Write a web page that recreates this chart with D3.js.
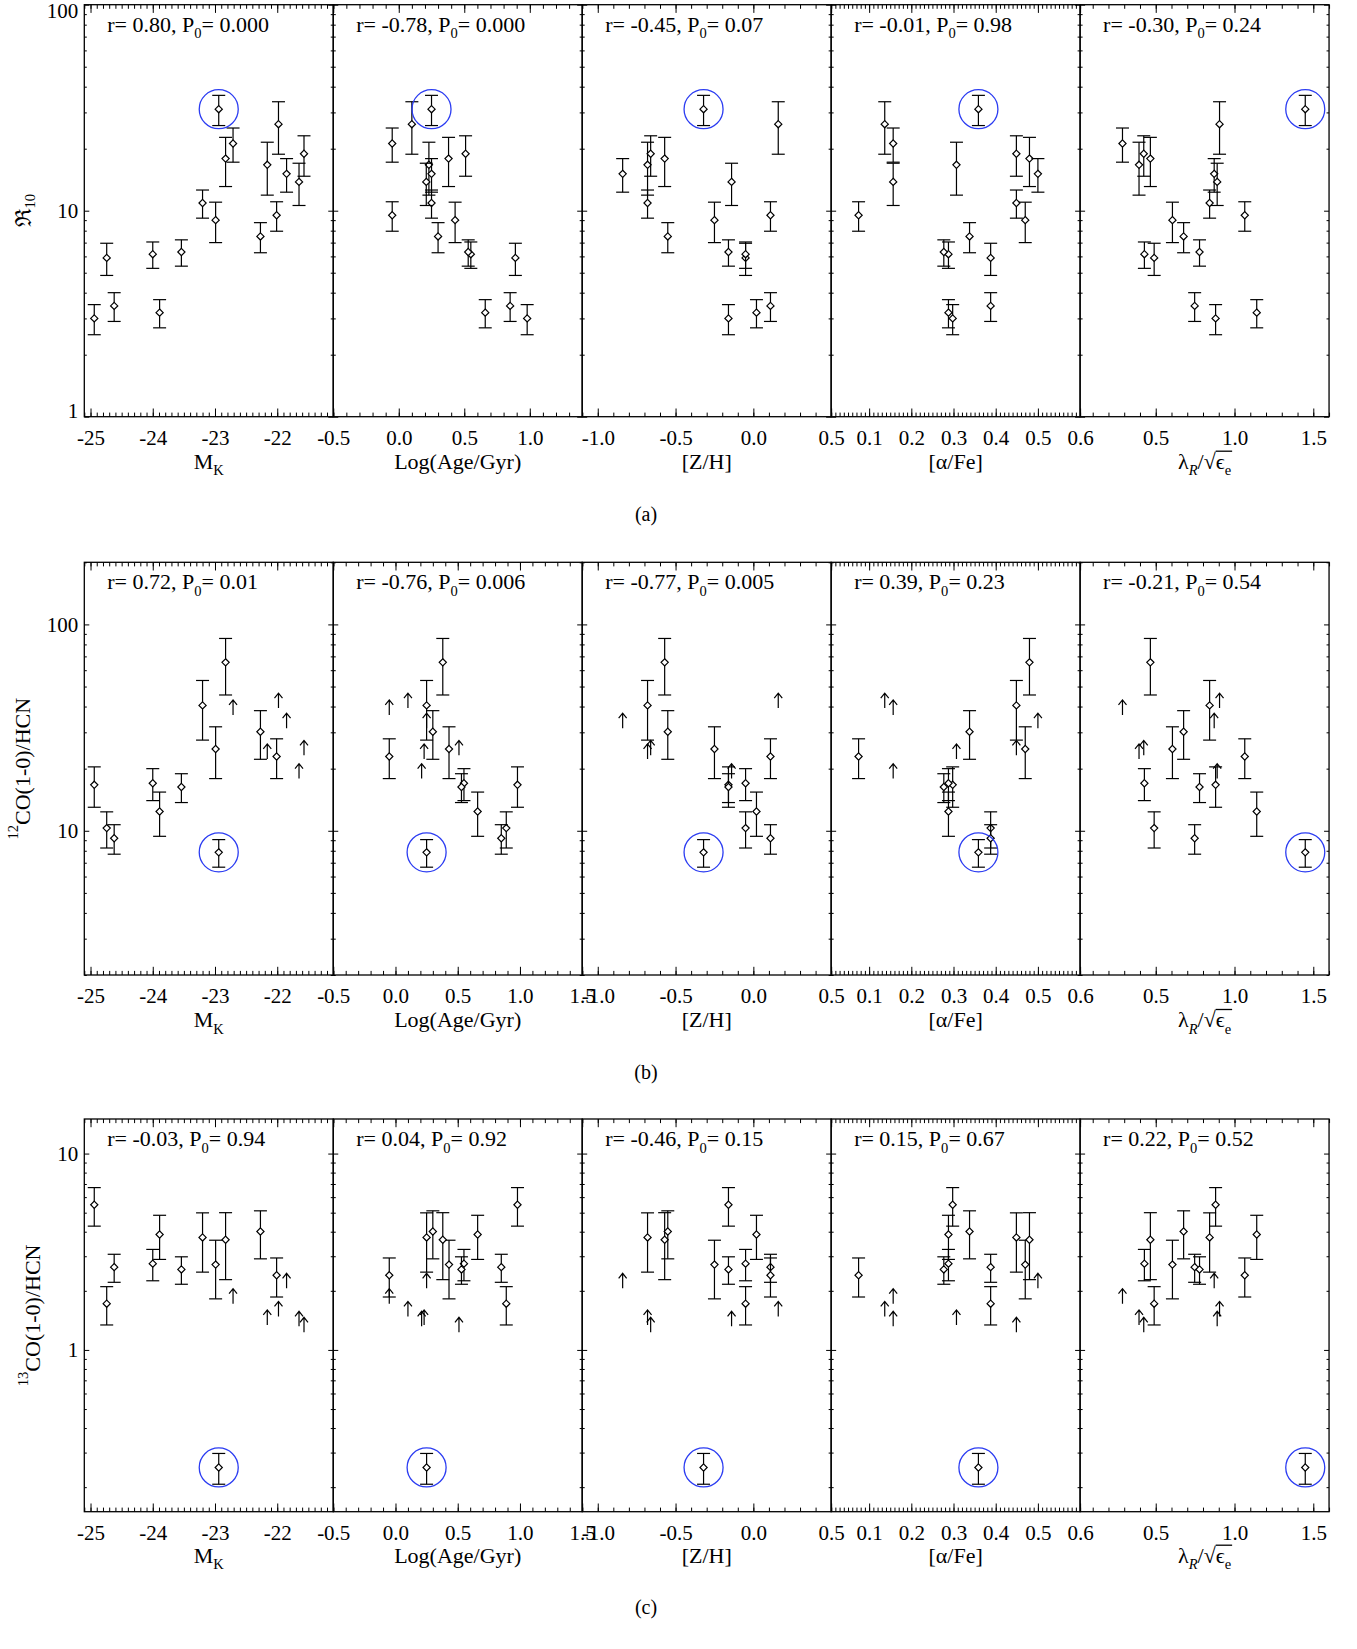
<!DOCTYPE html>
<html>
<head>
<meta charset="utf-8">
<script src="https://cdn.jsdelivr.net/npm/d3@7"></script>
<style>
body { margin: 0; background: #fff; }
text { font-family: "Liberation Serif", "Times New Roman", "DejaVu Serif", serif; fill: #000; }
</style>
</head>
<body>
<div id="chart"></div>
<script>
// galaxy properties, same order in every array
const MK      = [-24.94,-24.74,-24.62,-24.00,-23.89,-23.54,-23.20,-22.99,-22.94,-22.83,-22.71,-22.27,-22.16,-21.98,-22.01,-21.85,-21.65,-21.57];
const logAge  = [0.98,0.89,0.85,0.55,0.66,0.53,0.25,0.43,0.25,0.38,-0.05,0.30,0.23,0.10,-0.05,0.25,0.21,0.51];
const ZH      = [-0.16,-0.05,0.11,-0.05,0.02,-0.16,-0.68,-0.25,-0.32,-0.57,null,-0.55,-0.68,0.16,0.11,-0.84,-0.14,-0.66];
const alphaFe = [0.298,0.388,0.388,0.288,0.288,0.277,0.449,0.47,0.359,0.48,0.157,0.338,0.307,0.137,0.075,0.50,0.157,0.449];
const lambdaR = [0.88,0.49,0.747,0.428,1.141,0.778,0.842,0.606,1.449,0.466,0.289,0.677,0.394,0.905,1.065,0.871,0.89,0.424];

// line ratios, err = null means lower limit (arrow)
const R10    = [3.0,5.9,3.45,6.15,3.2,6.3,10.9,9.0,31.1,17.9,21.2,7.5,16.7,26.3,9.5,15.1,13.8,18.9];
const R10err = [0.5,1.05,0.55,0.9,0.5,0.92,1.7,2.0,5.2,4.8,4.0,1.25,4.8,7.5,1.55,2.8,3.2,4.2];
const R12    = [16.7,10.3,9.2,17.0,12.4,16.3,40.5,24.9,7.86,65.5,36.4,30.2,22.3,39.3,22.9,31.4,17.9,23.2];
const R12err = [3.7,2.05,1.5,3.0,3.0,2.6,13,7.0,1.2,20,null,8.0,null,null,5.0,null,null,null];
const R13    = [5.49,1.72,2.64,2.75,3.87,2.57,3.74,2.72,0.252,3.64,1.72,4.01,1.34,1.48,2.40,2.06,1.32,1.23];
const R13err = [1.22,0.38,0.43,0.5,0.98,0.41,1.25,0.9,0.045,1.36,null,1.1,null,null,0.54,null,null,null];
const circled = 8; // the outlier ringed in blue

// correlation labels
const rA = ["0.80","-0.78","-0.45","-0.01","-0.30"], pA = ["0.000","0.000","0.07","0.98","0.24"];
const rB = ["0.72","-0.76","-0.77","0.39","-0.21"], pB = ["0.01","0.006","0.005","0.23","0.54"];
const rC = ["-0.03","0.04","-0.46","0.15","0.22"],  pC = ["0.94","0.92","0.15","0.67","0.52"];

// axes
const xDomA  = [[-25.1,-21.1],[-0.5,1.4],[-1.1,0.5],[0.01,0.6],[0.02,1.6]];
const xDomBC = [[-25.1,-21.1],[-0.5,1.5],[-1.1,0.5],[0.01,0.6],[0.02,1.6]];
const xMajor = [[-25,-24,-23,-22],[-0.5,0,0.5,1.0,1.5],[-1.0,-0.5,0,0.5],[0.1,0.2,0.3,0.4,0.5,0.6],[0.5,1.0,1.5]];
const xMinorStep = [0.1,0.1,0.1,0.01,0.1];
const xDecimals = [0,1,1,1,1];

const W = 1357, H = 1649;
const panelLeft = 84.3, panelW = 248.95;
const xs = [MK, logAge, ZH, alphaFe, lambdaR];
const xTitles = [
  [{t:"M"},{t:"K",sub:true}],
  [{t:"Log(Age/Gyr)"}],
  [{t:"[Z/H]"}],
  [{t:"[α/Fe]"}],
  [{t:"λ"},{t:"R",sub:true,italic:true},{t:"/"},{t:"√",sqrt:true},{t:"ϵ",over:true},{t:"e",sub:true,over:true}]
];

const rows = [
  {top:4.7, bottom:416.7, yDom:[1,100], vals:R10, errs:R10err, xDom:xDomA, r:rA, p:pA,
   yTitle:[{t:"ℜ"},{t:"10",sub:true}], yTitleX:23, cap:"(a)", capY:521, xTitleOff:52},
  {top:562.3, bottom:975, yDom:[2,200], vals:R12, errs:R12err, xDom:xDomBC, r:rB, p:pB,
   yTitle:[{t:"12",sup:true},{t:"CO(1-0)/HCN"}], yTitleX:22, cap:"(b)", capY:1079, xTitleOff:52},
  {top:1119, bottom:1511.7, yDom:[0.15,15], vals:R13, errs:R13err, xDom:xDomBC, r:rC, p:pC,
   yTitle:[{t:"13",sup:true},{t:"CO(1-0)/HCN"}], yTitleX:32, cap:"(c)", capY:1614, xTitleOff:51}
];

const svg = d3.select("#chart").append("svg")
  .attr("width", W).attr("height", H)
  .attr("viewBox", `0 0 ${W} ${H}`);

// text with sub/superscripts built from tspans
function richText(sel, parts, size) {
  let shift = 0;
  parts.forEach(p => {
    const target = p.sub ? size * 0.3 : p.sup ? -size * 0.42 : 0;
    const ts = sel.append("tspan").text(p.t).attr("dy", target - shift);
    shift = target;
    if (p.sub || p.sup) ts.attr("font-size", size * 0.66);
    if (p.italic) ts.attr("font-style", "italic");
    if (p.sqrt) ts.classed("sqrt", true);
    if (p.over) ts.classed("over", true);
  });
  return sel;
}

function logTicks(dom) {
  const minor = [], major = [];
  for (let k = -2; k <= 3; k++) {
    const d = Math.pow(10, k);
    for (let m = 1; m <= 9; m++) {
      const v = +(m * d).toPrecision(3);
      if (v >= dom[0] * 0.999 && v <= dom[1] * 1.001) (m === 1 ? major : minor).push(v);
    }
  }
  return {minor, major};
}

rows.forEach(row => {
  const gRow = svg.append("g");
  const y = d3.scaleLog().domain(row.yDom).range([row.bottom, row.top]);
  const yt = logTicks(row.yDom);

  row.xDom.forEach((dom, j) => {
    const x0 = panelLeft + j * panelW;
    const x = d3.scaleLinear().domain(dom).range([x0, x0 + panelW]);
    const g = gRow.append("g");
    const inDom = v => v >= dom[0] - 1e-9 && v <= dom[1] + 1e-9;
    const step = xMinorStep[j];
    const minor = d3.range(Math.ceil(dom[0] / step - 1e-6), Math.floor(dom[1] / step + 1e-6) + 1)
      .map(k => +(k * step).toFixed(3));
    const major = xMajor[j].filter(inDom);
    const fmt = v => v.toFixed(xDecimals[j]);

    const ax = (axis, tr) => {
      const a = g.append("g").attr("transform", tr).call(axis);
      a.select(".domain").remove();
      a.selectAll("line").attr("stroke", "#000").attr("stroke-width", 1);
      return a;
    };
    // x ticks, bottom and top
    ax(d3.axisBottom(x).tickValues(minor).tickSize(-4.1).tickFormat(""), `translate(0,${row.bottom})`);
    ax(d3.axisBottom(x).tickValues(major).tickSize(-8.2).tickPadding(13).tickFormat(fmt), `translate(0,${row.bottom})`)
      .selectAll("text").attr("font-size", 21).attr("font-family", null);
    ax(d3.axisTop(x).tickValues(minor).tickSize(-4.1).tickFormat(""), `translate(0,${row.top})`);
    ax(d3.axisTop(x).tickValues(major).tickSize(-8.2).tickFormat(""), `translate(0,${row.top})`);
    // y ticks, left and right
    ax(d3.axisLeft(y).tickValues(yt.minor).tickSize(-2.5).tickFormat(""), `translate(${x0},0)`);
    const yl = ax(d3.axisLeft(y).tickValues(yt.major).tickSize(-5).tickPadding(6)
      .tickFormat(j === 0 ? (v => String(v)) : ""), `translate(${x0},0)`);
    yl.selectAll("text").attr("font-size", 21).attr("font-family", null)
      .attr("dy", v => Math.abs(y(v) - row.top) < 1 ? "0.62em" : Math.abs(y(v) - row.bottom) < 1 ? "0.05em" : "0.32em");
    ax(d3.axisRight(y).tickValues(yt.minor).tickSize(-2.5).tickFormat(""), `translate(${x0 + panelW},0)`);
    ax(d3.axisRight(y).tickValues(yt.major).tickSize(-5).tickFormat(""), `translate(${x0 + panelW},0)`);

    g.append("rect")
      .attr("x", x0).attr("y", row.top)
      .attr("width", panelW).attr("height", row.bottom - row.top)
      .attr("fill", "none").attr("stroke", "#000").attr("stroke-width", 1.3);

    // correlation label
    richText(g.append("text").attr("x", x0 + 23).attr("y", row.top + 27).attr("font-size", 22),
      [{t:`r= ${row.r[j]}, P`},{t:"0",sub:true},{t:`= ${row.p[j]}`}], 22);

    // x title
    const xt = g.append("text").attr("x", x0 + panelW / 2).attr("y", row.bottom + row.xTitleOff)
      .attr("text-anchor", "middle").attr("font-size", 22);
    richText(xt, xTitles[j], 22);
    if (j === 4) {
      const s = xt.select("tspan.sqrt").node().getBBox();
      const ov = xt.selectAll("tspan.over").nodes().map(n => n.getBBox());
      const xEnd = d3.max(ov, b => b.x + b.width);
      g.append("line")
        .attr("x1", s.x + s.width - 1).attr("x2", xEnd + 1)
        .attr("y1", s.y + 2.5).attr("y2", s.y + 2.5)
        .attr("stroke", "#000").attr("stroke-width", 1.3);
    }

    // data marks
    const pts = row.vals.map((v, i) => ({x: xs[j][i], v, e: row.errs[i], i}))
      .filter(d => d.x !== null);
    const mk = g.append("g").attr("stroke", "#000").attr("fill", "none").attr("stroke-width", 1.2);
    pts.forEach(d => {
      const px = x(d.x), py = y(d.v);
      if (d.e !== null) {
        const y1 = y(d.v + d.e), y2 = y(d.v - d.e);
        mk.append("line").attr("x1", px).attr("x2", px).attr("y1", y1).attr("y2", y2);
        mk.append("line").attr("x1", px - 6.5).attr("x2", px + 6.5).attr("y1", y1).attr("y2", y1);
        mk.append("line").attr("x1", px - 6.5).attr("x2", px + 6.5).attr("y1", y2).attr("y2", y2);
        mk.append("path")
          .attr("d", `M${px},${py - 3.6}L${px + 3.6},${py}L${px},${py + 3.6}L${px - 3.6},${py}Z`)
          .attr("fill", "#fff");
      } else {
        mk.append("path")
          .attr("d", `M${px},${py}V${py - 15}M${px - 4},${py - 10}L${px},${py - 15}L${px + 4},${py - 10}`);
      }
      if (d.i === circled) {
        g.append("circle").attr("cx", px).attr("cy", py).attr("r", 19.5)
          .attr("fill", "none").attr("stroke", "#2b3cf2").attr("stroke-width", 1.3);
      }
    });
  });

  // y title
  const ytx = gRow.append("text")
    .attr("transform", `translate(${row.yTitleX},${(row.top + row.bottom) / 2}) rotate(-90)`)
    .attr("text-anchor", "middle").attr("dominant-baseline", "central").attr("font-size", 22);
  richText(ytx, row.yTitle, 22);

  gRow.append("text").attr("x", 646).attr("y", row.capY)
    .attr("text-anchor", "middle").attr("font-size", 20).text(row.cap);
});
</script>
</body>
</html>
